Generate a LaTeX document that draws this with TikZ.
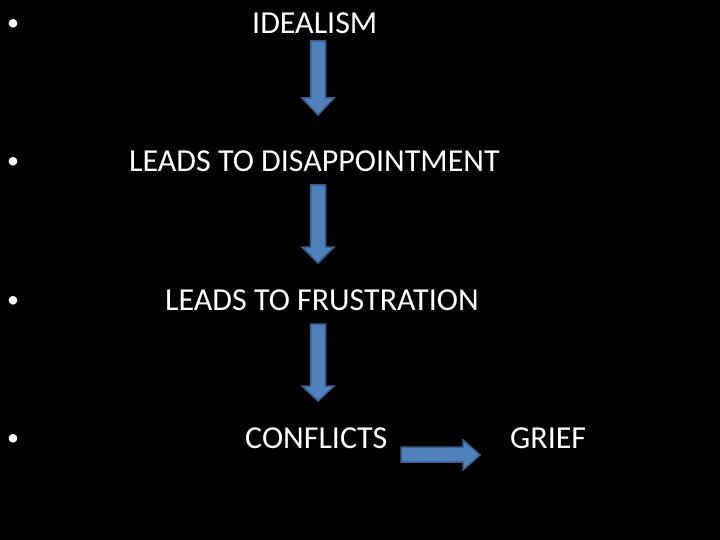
\documentclass[tikz,border=0pt]{standalone}
\usepackage{fontspec}
\setmainfont{Carlito}
\begin{document}
\begin{tikzpicture}[x=1pt,y=-1pt,
  txt/.style={anchor=base west,text=white,inner sep=0pt,font=\fontsize{32}{38}\selectfont},
  bul/.style={anchor=base west,text=white,inner sep=0pt,font=\fontsize{24}{29}\selectfont},
  blk/.style={fill={rgb,255:red,79;green,129;blue,189},draw={rgb,255:red,56;green,93;blue,138},line width=1.5pt,line join=miter}]
\fill[black] (0,0) rectangle (720,540);
\useasboundingbox (0,0) rectangle (720,540);
% bullets
\foreach \y/\n in {31/b1,169/b2,307/b3,445/b4}{
  \node[bul] (\n) at (7,\y) {•};
}
\node[txt] (t1) at (252,34) {IDEALISM};
\node[txt] (t2) at (129,172) {LEADS TO DISAPPOINTMENT};
\node[txt] (t3) at (165,310) {LEADS TO FRUSTRATION};
\node[txt] (t4) at (245,448) {CONFLICTS};
\node[txt] (t5) at (510,448) {GRIEF};
% down arrows
\foreach \a/\h/\b in {41/98/115,185/247/263,324/386/401}{
  \draw[blk] (310.5,\a) -- (325.5,\a) -- (325.5,\h) -- (334,\h) -- (318,\b) -- (302,\h) -- (310.5,\h) -- cycle;
}
% right arrow
\draw[blk] (401,447) -- (463,447) -- (463,440) -- (480,455) -- (463,470) -- (463,462) -- (401,462) -- cycle;
\end{tikzpicture}
\end{document}
